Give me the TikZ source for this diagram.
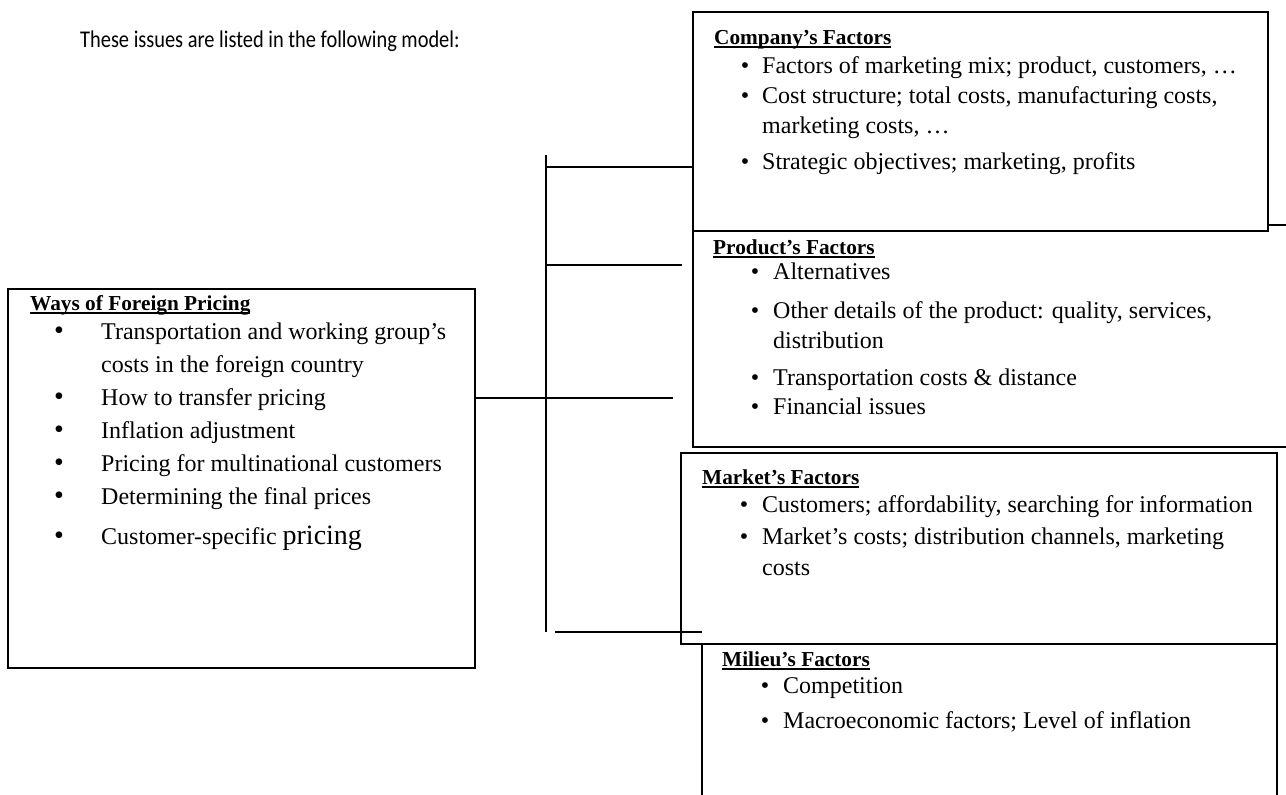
\documentclass[tikz,border=0pt]{standalone}
\usepackage{fontspec}
\setmainfont{Liberation Serif}
\newfontfamily\hdrfont{Carlito}
\newcommand\ulh[1]{\setbox0\hbox{#1}\rlap{\rule[-3.5pt]{\wd0}{1.5pt}}\box0}
\begin{document}
\begin{tikzpicture}[x=1pt,y=-1pt,
  box/.style={draw,line width=1.5pt,fill=white,inner sep=0pt,outer sep=0pt,anchor=north west},
  tx/.style={anchor=base west,inner sep=0pt,font=\fontsize{24}{30}\selectfont},
  bul/.style={anchor=base,inner sep=0pt,font=\fontsize{24}{30}\selectfont},
  bigbul/.style={anchor=base,inner sep=0pt,font=\fontsize{28}{30}\selectfont},
  hd/.style={anchor=base west,inner sep=0pt,font=\bfseries\fontsize{21.3}{26}\selectfont},
  conn/.style={line width=1.5pt}]
\useasboundingbox (0,0) rectangle (1286,795);
\clip (0,0) rectangle (1286,795);
% boxes
\node[box,minimum width=610,minimum height=222] (product) at (693,225) {};
\node[box,minimum width=575,minimum height=219] (company) at (693,12) {};
\node[box,minimum width=467,minimum height=379] (ways) at (8,289) {};
\node[box,minimum width=575,minimum height=200] (milieu) at (702,630) {};
\node[box,minimum width=596,minimum height=191] (market) at (681,453) {};
% connectors
\coordinate (vtop) at (546,155);
\coordinate (vbot) at (546,632);
\draw[conn] (vtop) -- (vbot);
\coordinate (j1) at (546,167);
\draw[conn] (j1) -- (j1 -| company.west);
\coordinate (j2) at (546,265);
\coordinate (e2) at (682,265);
\draw[conn] (j2) -- (e2);
\coordinate (e3) at (673,398);
\draw[conn] (ways.east |- e3) -- (e3);
\coordinate (s4) at (555,632);
\draw[conn] (s4) -- (s4 -| milieu.west);
% intro
\node[anchor=base west,inner sep=0pt,font=\hdrfont\fontsize{24}{28}\selectfont] (intro) at (80,47) {\scalebox{0.85}[1]{These issues are listed in the following model:}};
% ways
\node[hd] (wh) at (30,310) {\ulh{Ways of Foreign Pricing}};
\node[bigbul] (wb1) at (59,339) {•};
\node[tx] (wt1) at (101,339) {Transportation and working group’s};
\node[tx] (wt1b) at (101,372) {costs in the foreign country};
\node[bigbul] (wb2) at (59,405) {•};
\node[tx] (wt2) at (101,405) {How to transfer pricing};
\node[bigbul] (wb3) at (59,438) {•};
\node[tx] (wt3) at (101,438) {Inflation adjustment};
\node[bigbul] (wb4) at (59,471) {•};
\node[tx] (wt4) at (101,471) {Pricing for multinational customers};
\node[bigbul] (wb5) at (59,504) {•};
\node[tx] (wt5) at (101,504) {Determining the final prices};
\node[bigbul] (wb6) at (59,544) {•};
\node[tx] (wt6) at (101,544) {Customer-specific {\fontsize{28}{34}\selectfont pricing}};
% company
\node[hd] (ch) at (714,44) {\ulh{Company’s Factors}};
\node[bul] (cb1) at (745,73) {•};
\node[tx] (ct1) at (762,73) {Factors of marketing mix; product, customers, …};
\node[bul] (cb2) at (745,103) {•};
\node[tx] (ct2) at (762,103) {Cost structure; total costs, manufacturing costs,};
\node[tx] (ct2b) at (762,133) {marketing costs, …};
\node[bul] (cb3) at (745,169) {•};
\node[tx] (ct3) at (762,169) {Strategic objectives; marketing, profits};
% product
\node[hd] (ph) at (713,254) {\ulh{Product’s Factors}};
\node[bul] (pb1) at (755,279) {•};
\node[tx] (pt1) at (773,279) {Alternatives};
\node[bul] (pb2) at (755,318) {•};
\node[tx] (pt2) at (773,318) {Other details of the product: quality, services,};
\node[tx] (pt2b) at (773,348) {distribution};
\node[bul] (pb3) at (755,385) {•};
\node[tx] (pt3) at (773,385) {Transportation costs \& distance};
\node[bul] (pb4) at (755,414) {•};
\node[tx] (pt4) at (773,414) {Financial issues};
% market
\node[hd] (mh) at (702,484) {\ulh{Market’s Factors}};
\node[bul] (mb1) at (744,512) {•};
\node[tx] (mt1) at (762,512) {Customers; affordability, searching for information};
\node[bul] (mb2) at (744,544) {•};
\node[tx] (mt2) at (762,544) {Market’s costs; distribution channels, marketing};
\node[tx] (mt2b) at (762,575) {costs};
% milieu
\node[hd] (lh) at (722,666) {\ulh{Milieu’s Factors}};
\node[bul] (lb1) at (765,693) {•};
\node[tx] (lt1) at (783,693) {Competition};
\node[bul] (lb2) at (765,728) {•};
\node[tx] (lt2) at (783,728) {Macroeconomic factors; Level of inflation};
\end{tikzpicture}
\end{document}
